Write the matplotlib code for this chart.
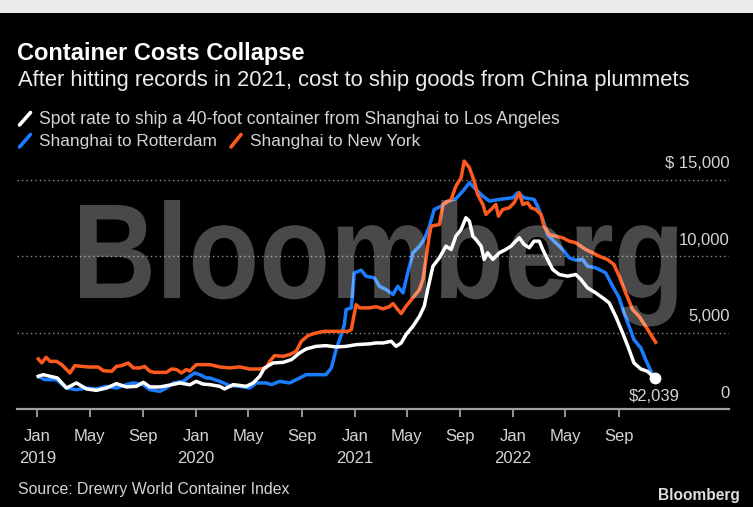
import matplotlib
matplotlib.use("Agg")
import matplotlib.pyplot as plt
import matplotlib.transforms as mtransforms
from matplotlib.textpath import TextPath
from matplotlib.patches import PathPatch, Rectangle
from matplotlib.font_manager import FontProperties
from matplotlib.lines import Line2D
import pandas as pd

# ---------------- data ----------------
la_dates = ["2019-01-03", "2019-01-14", "2019-02-16", "2019-03-09", "2019-04-01", "2019-04-24",
            "2019-05-17", "2019-06-09", "2019-07-02", "2019-07-25", "2019-08-17", "2019-09-02",
            "2019-09-17", "2019-10-10", "2019-11-02", "2019-11-25", "2019-12-18", "2020-01-02",
            "2020-01-17", "2020-02-02", "2020-02-25", "2020-03-07", "2020-03-27", "2020-04-26",
            "2020-05-12", "2020-05-27", "2020-06-07", "2020-06-27", "2020-07-20", "2020-08-08",
            "2020-08-27", "2020-09-11", "2020-10-04", "2020-10-27", "2020-11-19", "2020-12-12",
            "2021-01-04", "2021-02-04", "2021-02-19", "2021-03-07", "2021-03-26", "2021-04-06",
            "2021-04-18", "2021-04-29", "2021-05-15", "2021-05-30", "2021-06-10", "2021-06-18",
            "2021-06-30", "2021-07-15", "2021-07-30", "2021-08-11", "2021-08-22", "2021-09-03",
            "2021-09-14", "2021-09-22", "2021-09-30", "2021-10-07", "2021-10-19", "2021-10-26",
            "2021-11-03", "2021-11-15", "2021-11-30", "2021-12-15", "2021-12-27", "2022-01-07",
            "2022-01-15", "2022-01-26", "2022-02-07", "2022-02-18", "2022-03-02", "2022-03-10",
            "2022-03-21", "2022-04-02", "2022-04-17", "2022-05-06", "2022-05-25", "2022-06-06",
            "2022-06-21", "2022-07-10", "2022-07-26", "2022-08-10", "2022-08-25", "2022-09-10",
            "2022-09-25", "2022-10-06", "2022-10-22", "2022-11-06", "2022-11-23"]
la_values = [2150, 2260, 2045, 1390, 1720, 1330,
             1235, 1390, 1675, 1460, 1500, 1760,
             1460, 1460, 1580, 1720, 1600, 1825,
             1650, 1610, 1500, 1330, 1610, 1500,
             1720, 2150, 2700, 3025, 3065, 3240,
             3680, 3940, 4110, 4155, 4070, 4110,
             4220, 4270, 4330, 4330, 4440, 4110,
             4330, 4875, 5420, 6070, 6725, 7820,
             9340, 9890, 10650, 10430, 11300, 11740,
             12505, 12280, 11300, 11085, 10650, 9780,
             10215, 9780, 10215, 10430, 10650, 10975,
             11195, 10760, 10545, 10975, 10975, 10430,
             9780, 9125, 8800, 8690, 8800, 8470,
             7930, 7600, 7275, 6950, 6070, 4985,
             3895, 3025, 2630, 2480, 2039]

rot_dates = ["2019-01-03", "2019-01-18", "2019-02-14", "2019-03-09", "2019-04-01", "2019-04-24",
             "2019-05-17", "2019-06-09", "2019-07-02", "2019-07-25", "2019-08-10", "2019-09-02",
             "2019-09-17", "2019-10-10", "2019-10-25", "2019-11-10", "2019-12-03", "2019-12-18",
             "2019-12-29", "2020-01-10", "2020-01-25", "2020-02-02", "2020-02-25", "2020-03-19",
             "2020-04-11", "2020-05-04", "2020-05-19", "2020-06-11", "2020-06-23", "2020-07-12",
             "2020-08-04", "2020-08-27", "2020-09-11", "2020-10-04", "2020-10-27", "2020-11-08",
             "2020-11-19", "2020-12-01", "2020-12-08", "2020-12-12", "2020-12-24", "2020-12-31",
             "2021-01-16", "2021-01-27", "2021-02-15", "2021-02-27", "2021-03-14", "2021-03-30",
             "2021-04-10", "2021-04-22", "2021-05-03", "2021-05-15", "2021-05-30", "2021-06-10",
             "2021-06-22", "2021-07-03", "2021-07-19", "2021-08-03", "2021-08-22", "2021-09-07",
             "2021-09-22", "2021-10-07", "2021-10-23", "2021-11-07", "2021-11-30", "2021-12-31",
             "2022-01-11", "2022-01-26", "2022-02-18", "2022-02-26", "2022-03-10", "2022-03-21",
             "2022-04-05", "2022-04-25", "2022-05-10", "2022-05-25", "2022-06-10", "2022-06-21",
             "2022-07-10", "2022-08-02", "2022-08-18", "2022-09-02", "2022-09-13", "2022-09-25",
             "2022-10-06", "2022-10-22", "2022-11-02", "2022-11-18"]
rot_values = [2150, 1935, 1935, 1390, 1280, 1390,
              1330, 1500, 1390, 1610, 1720, 1610,
              1280, 1170, 1390, 1720, 1825, 2150,
              2370, 2260, 2045, 2045, 1825, 1540,
              1500, 1390, 1720, 1720, 1610, 1825,
              1720, 2045, 2260, 2260, 2260, 2700,
              3895, 4875, 5530, 6510, 6620, 8910,
              9080, 8690, 8580, 8030, 7820, 7490,
              8030, 7600, 8910, 10215, 10650, 11085,
              11955, 13045, 13260, 13590, 13745, 14240,
              14790, 14350, 13915, 13590, 13700, 13810,
              14135, 13810, 13700, 13260, 12390, 11410,
              10975, 10430, 9890, 9735, 9780, 9340,
              9235, 8910, 8030, 7275, 6295, 5420,
              4550, 4005, 3240, 2260]

ny_dates = ["2019-01-03", "2019-01-11", "2019-01-21", "2019-01-30", "2019-02-14", "2019-02-26",
            "2019-03-17", "2019-03-28", "2019-04-28", "2019-05-21", "2019-06-02", "2019-06-21",
            "2019-07-02", "2019-07-14", "2019-07-29", "2019-08-10", "2019-08-25", "2019-09-05",
            "2019-09-17", "2019-09-28", "2019-10-25", "2019-11-06", "2019-11-17", "2019-11-29",
            "2019-12-10", "2019-12-18", "2020-01-02", "2020-02-02", "2020-02-25", "2020-03-19",
            "2020-04-11", "2020-05-04", "2020-05-27", "2020-06-11", "2020-06-19", "2020-06-30",
            "2020-07-20", "2020-08-04", "2020-08-19", "2020-08-31", "2020-09-15", "2020-10-04",
            "2020-10-23", "2020-11-19", "2020-12-16", "2020-12-24", "2021-01-04", "2021-01-12",
            "2021-02-04", "2021-02-19", "2021-03-07", "2021-03-22", "2021-03-30", "2021-04-10",
            "2021-04-18", "2021-04-29", "2021-05-15", "2021-05-30", "2021-06-07", "2021-06-14",
            "2021-06-22", "2021-06-26", "2021-07-15", "2021-07-23", "2021-08-11", "2021-08-22",
            "2021-09-03", "2021-09-10", "2021-09-22", "2021-10-03", "2021-10-11", "2021-10-23",
            "2021-10-30", "2021-11-11", "2021-11-22", "2021-11-28", "2021-12-08", "2021-12-23",
            "2022-01-03", "2022-01-15", "2022-01-23", "2022-02-03", "2022-02-11", "2022-02-22",
            "2022-03-06", "2022-03-13", "2022-03-25", "2022-04-09", "2022-04-25", "2022-05-10",
            "2022-05-25", "2022-06-17", "2022-07-03", "2022-07-18", "2022-08-06", "2022-08-21",
            "2022-09-02", "2022-09-17", "2022-10-03", "2022-10-18", "2022-11-02", "2022-11-14",
            "2022-11-25"]
ny_values = [3290, 3030, 3390, 3130, 3130, 2915,
             2370, 2850, 2760, 2760, 2520, 2480,
             2800, 2850, 3025, 2700, 2700, 2800,
             2480, 2410, 2410, 2630, 2600, 2370,
             2590, 2500, 2915, 2915, 2765, 2700,
             2765, 2630, 2630, 2700, 3130, 3500,
             3460, 3570, 3785, 4440, 4810, 4985,
             5090, 5090, 5090, 5200, 6835, 6620,
             6620, 6700, 6555, 6700, 6900, 6510,
             6250, 6725, 7275, 7820, 8470, 9780,
             11410, 11955, 12065, 13375, 13700, 14570,
             15120, 16200, 15770, 14900, 14025, 13375,
             12720, 13045, 13375, 12610, 13045, 13155,
             13485, 14135, 13375, 13485, 13155, 13045,
             12720, 11955, 11410, 11300, 11195, 10975,
             10870, 10430, 10215, 9995, 9780, 9450,
             8690, 7600, 6510, 6070, 5420, 4875,
             4375]

tick_dates = ["2019-01-01", "2019-05-01", "2019-09-01", "2020-01-01", "2020-05-01", "2020-09-01",
              "2021-01-01", "2021-05-01", "2021-09-01", "2022-01-01", "2022-05-01", "2022-09-01"]
tick_labels = ["Jan\n2019", "May", "Sep", "Jan\n2020", "May", "Sep",
               "Jan\n2021", "May", "Sep", "Jan\n2022", "May", "Sep"]
y_ticks = [0, 5000, 10000, 15000]
y_tick_labels = ["0", "5,000", "10,000", "$ 15,000"]

title = "Container Costs Collapse"
subtitle = "After hitting records in 2021, cost to ship goods from China plummets"
legend_la = "Spot rate to ship a 40-foot container from Shanghai to Los Angeles"
legend_rot = "Shanghai to Rotterdam"
legend_ny = "Shanghai to New York"
source = "Source: Drewry World Container Index"
end_label = "$2,039"

# ---------------- style ----------------
W, H = 753, 507
BLUE = "#1a7dff"
ORANGE = "#ff5a1e"
WHITE = "#ffffff"
TXT = "#d4d4d4"
plt.rcParams["font.family"] = ["Liberation Sans", "DejaVu Sans"]

fig = plt.figure(figsize=(W / 100, H / 100), dpi=100, facecolor="black")


def fx(px):
    return px / W


def fy(py):
    return 1 - py / H


# top light band
fig.add_artist(Rectangle((0, fy(12.7)), 1, 12.7 / H, transform=fig.transFigure,
                         facecolor="#ebebea", edgecolor="none", zorder=0))

# axes placement
y_top = 17000
px_per_5000 = 76.6
ax_left, ax_right, ax_zero = 17, 729, 409.3
ax_h = y_top / 5000 * px_per_5000
ax = fig.add_axes([fx(ax_left), (H - ax_zero) / H, (ax_right - ax_left) / W, ax_h / H])
ax.set_facecolor("none")

x0 = pd.Timestamp("2018-11-15")
x1 = pd.Timestamp("2023-05-13")
ax.set_xlim(x0, x1)
ax.set_ylim(0, y_top)

for s in ["top", "left", "right"]:
    ax.spines[s].set_visible(False)
ax.spines["bottom"].set_color("#a0a0a0")
ax.spines["bottom"].set_linewidth(1.6)

ax.set_yticks(y_ticks)
ax.tick_params(axis="y", left=False, right=False, labelleft=False, labelright=False)
for v in y_ticks[1:]:
    ax.axhline(v, color="#8c8c8c", lw=1.0, ls=(0, (1, 2.2)), zorder=1)

ax.set_xticks(pd.to_datetime(tick_dates))
ax.set_xticklabels(tick_labels)
ax.tick_params(axis="x", direction="out", length=6, width=1.3, color="#a0a0a0",
               labelcolor=TXT, labelsize=12, pad=8.5)
for lab in ax.get_xticklabels():
    lab.set_linespacing(1.55)

lw = 2.5
ax.plot(pd.to_datetime(rot_dates), rot_values, color=BLUE, lw=lw, zorder=3, solid_joinstyle="round")
ax.plot(pd.to_datetime(ny_dates), ny_values, color=ORANGE, lw=lw, zorder=3, solid_joinstyle="round")
ax.plot(pd.to_datetime(la_dates), la_values, color=WHITE, lw=lw, zorder=4, solid_joinstyle="round")
ax.plot(pd.to_datetime(la_dates[-1:]), la_values[-1:], "o", color=WHITE, ms=7.5, zorder=5)
ax.annotate(end_label, (pd.Timestamp(la_dates[-1]), la_values[-1]), xytext=(0, -23),
            textcoords="offset pixels", ha="center", va="baseline", color=TXT, fontsize=12)

# right-side value labels sitting above gridlines
lab_tr = mtransforms.offset_copy(ax.get_yaxis_transform(), fig=fig, x=1, y=11.5, units="dots")
for v, t in zip(y_ticks, y_tick_labels):
    ax.text(1.0, v, t, transform=lab_tr, ha="right", va="baseline", color=TXT, fontsize=12)

# watermark drawn over the lines
fp = FontProperties(family="Liberation Sans", weight="bold")
tp = TextPath((0, 0), "Bloomberg", size=100, prop=fp)
ext = tp.get_extents()
capb = TextPath((0, 0), "B", size=100, prop=fp).get_extents()
sx = (677 - 80) / ext.width
sy = (298 - 205) / capb.y1
wm_tr = (mtransforms.Affine2D().translate(-ext.x0, 0).scale(sx, sy)
         .translate(80, H - 298).scale(1 / W, 1 / H) + fig.transFigure)
fig.add_artist(PathPatch(tp, transform=wm_tr, facecolor="white", edgecolor="none",
                         alpha=0.29, zorder=10))

# ---------------- texts ----------------
renderer = fig.canvas.get_renderer()


def fit(t, width):
    for _ in range(2):
        bb = t.get_window_extent(renderer)
        t.set_fontsize(t.get_fontsize() * width / bb.width)


t = fig.text(fx(17), fy(60), title, color="white", fontsize=17, fontweight="bold", va="baseline")
fit(t, 305 - 17)
t = fig.text(fx(18), fy(86), subtitle, color="#ececec", fontsize=15, va="baseline")
fit(t, 690 - 18)
t = fig.text(fx(39), fy(124), legend_la, color=TXT, fontsize=12, va="baseline")
fit(t, 560 - 39)
t = fig.text(fx(39), fy(146), legend_rot, color=TXT, fontsize=12, va="baseline")
fit(t, 217 - 39)
t = fig.text(fx(250), fy(146), legend_ny, color=TXT, fontsize=12, va="baseline")
fit(t, 420 - 250)
t = fig.text(fx(18), fy(494), source, color=TXT, fontsize=11, va="baseline")
fit(t, 291 - 18)
t = fig.text(fx(740), fy(500), "Bloomberg", color="#dcdcdc", fontsize=11, fontweight="bold",
             va="baseline", ha="right")
fit(t, 740 - 658)

# legend slashes
for (xa, ya, xb, yb), c in [((19.5, 125, 30.5, 112.5), WHITE),
                            ((19.5, 147, 30.5, 134.5), BLUE),
                            ((231, 147, 241, 134.5), ORANGE)]:
    fig.add_artist(Line2D([fx(xa), fx(xb)], [fy(ya), fy(yb)], transform=fig.transFigure,
                          color=c, lw=2.6, solid_capstyle="round"))

fig.savefig("out.png", dpi=100, facecolor=fig.get_facecolor())
